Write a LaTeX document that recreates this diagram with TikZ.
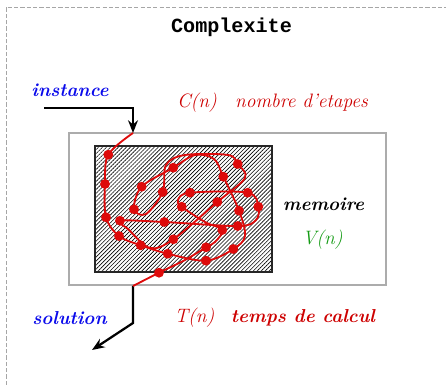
\documentclass[tikz,border=0pt]{standalone}
\usepackage{fontspec}
\usetikzlibrary{arrows.meta, patterns.meta}
\newfontfamily\titlefont{Liberation Mono}
\definecolor{tracered}{RGB}{222,10,10}
\definecolor{labelred}{RGB}{205,0,0}
\definecolor{labelblue}{RGB}{10,10,235}
\definecolor{labelgreen}{RGB}{20,155,20}

\begin{document}
\begin{tikzpicture}[x=0.025cm, y=-0.025cm,
    lbl/.style={font=\fontsize{13.8}{16}\selectfont\itshape, inner sep=0pt},
    blbl/.style={font=\fontsize{13.3}{16}\selectfont\bfseries\itshape, inner sep=0pt},
    flow/.style={line width=1.6pt, -{Stealth[length=9pt, width=7pt]}},
    trace/.style={tracered, line width=1.3pt},
    stopdot/.style={circle, fill=tracered, inner sep=0pt, minimum size=7pt}
]
\useasboundingbox (0,0) rectangle (446,385);

% dashed frame (cut at right and bottom)
\draw[gray!70, dash pattern=on 3pt off 1.5pt, line width=0.5pt] (6,385) -- (6,7) -- (446,7);

\node[font=\fontsize{14.3}{16}\selectfont\titlefont\bfseries] (title) at (231.5,27) {Complexite};

% machine and memory
\node[draw=gray!65, line width=0.9pt, fill=white, minimum width=317*0.025cm, minimum height=152*0.025cm, inner sep=0pt] (machine) at (227.5,209) {};
\node[draw=black!85, line width=1pt, pattern={Lines[angle=45, distance=2pt, line width=0.45pt]}, minimum width=177*0.025cm, minimum height=126*0.025cm, inner sep=0pt] (memory) at (183.5,209) {};

% labels
\node[blbl, text=labelblue] (instance) at (70,90) {instance};
\node[lbl, text=labelred] (cn) at (197,103) {C(n)};
\node[lbl, text=labelred] (etapes) at (301.5,103) {nombre d'etapes};
\node[blbl, text=black] (memoire) at (323.5,204) {memoire};
\node[lbl, text=labelgreen] (vn) at (322.5,240) {V(n)};
\node[blbl, text=labelblue] (solution) at (69.5,318) {solution};
\node[lbl, text=labelred] (tn) at (194.5,318) {T(n)};
\node[blbl, text=labelred] (calcul) at (303,318) {temps de calcul};

% input and output
\coordinate (in0) at (44,108);
\coordinate (entry) at (133,133);
\coordinate (exit) at (133,286);
\coordinate (outbend) at (133,323);
\coordinate (out1) at (92,350);
\draw[flow] (in0) -| (entry);
\draw[flow] (exit) -- (outbend) -- (out1);

% path of the computation
\draw[trace] plot[smooth, tension=0.55] coordinates {
  (133,133) (108.3,154.7) (105,184) (106,217.3) (119,236) (140.7,245.3)
  (167.7,253.7) (206,260.7) (233.3,249) (245,236) (239,210.7) (223.3,176.7)
  (214,159) (195,155) (173.3,167.7) (141.7,186.7) (134,209.3) (146,214)
  (162.7,192) (166,165) (185,155) (228,155) (237.7,164) (245,178)
  (217.3,202) (173.3,239.3) (150,248) (128,229) (120,220.7) (164.3,222)
  (237.7,226) (256,220) (258.3,206.7) (247.7,192.7) (190,192.7) (178,200)
  (181.7,206.7) (205,222) (222.3,230) (215,242) (206,247.3) (185,260)
  (159,272.7) (133,286)};
\foreach \p in {(108.3,154.7), (105,184), (106,217.3), (119,236), (140.7,245.3),
  (167.7,253.7), (206,260.7), (233.3,249), (239,210.7), (223.3,176.7),
  (173.3,167.7), (141.7,186.7), (134,209.3), (162.7,192), (237.7,164),
  (217.3,202), (173.3,239.3), (120,220.7), (164.3,222), (237.7,226),
  (258.3,206.7), (247.7,192.7), (190,192.7), (181.7,206.7), (222.3,230),
  (206,247.3), (159,272.7)}
  \node[stopdot] at \p {};

\end{tikzpicture}
\end{document}
